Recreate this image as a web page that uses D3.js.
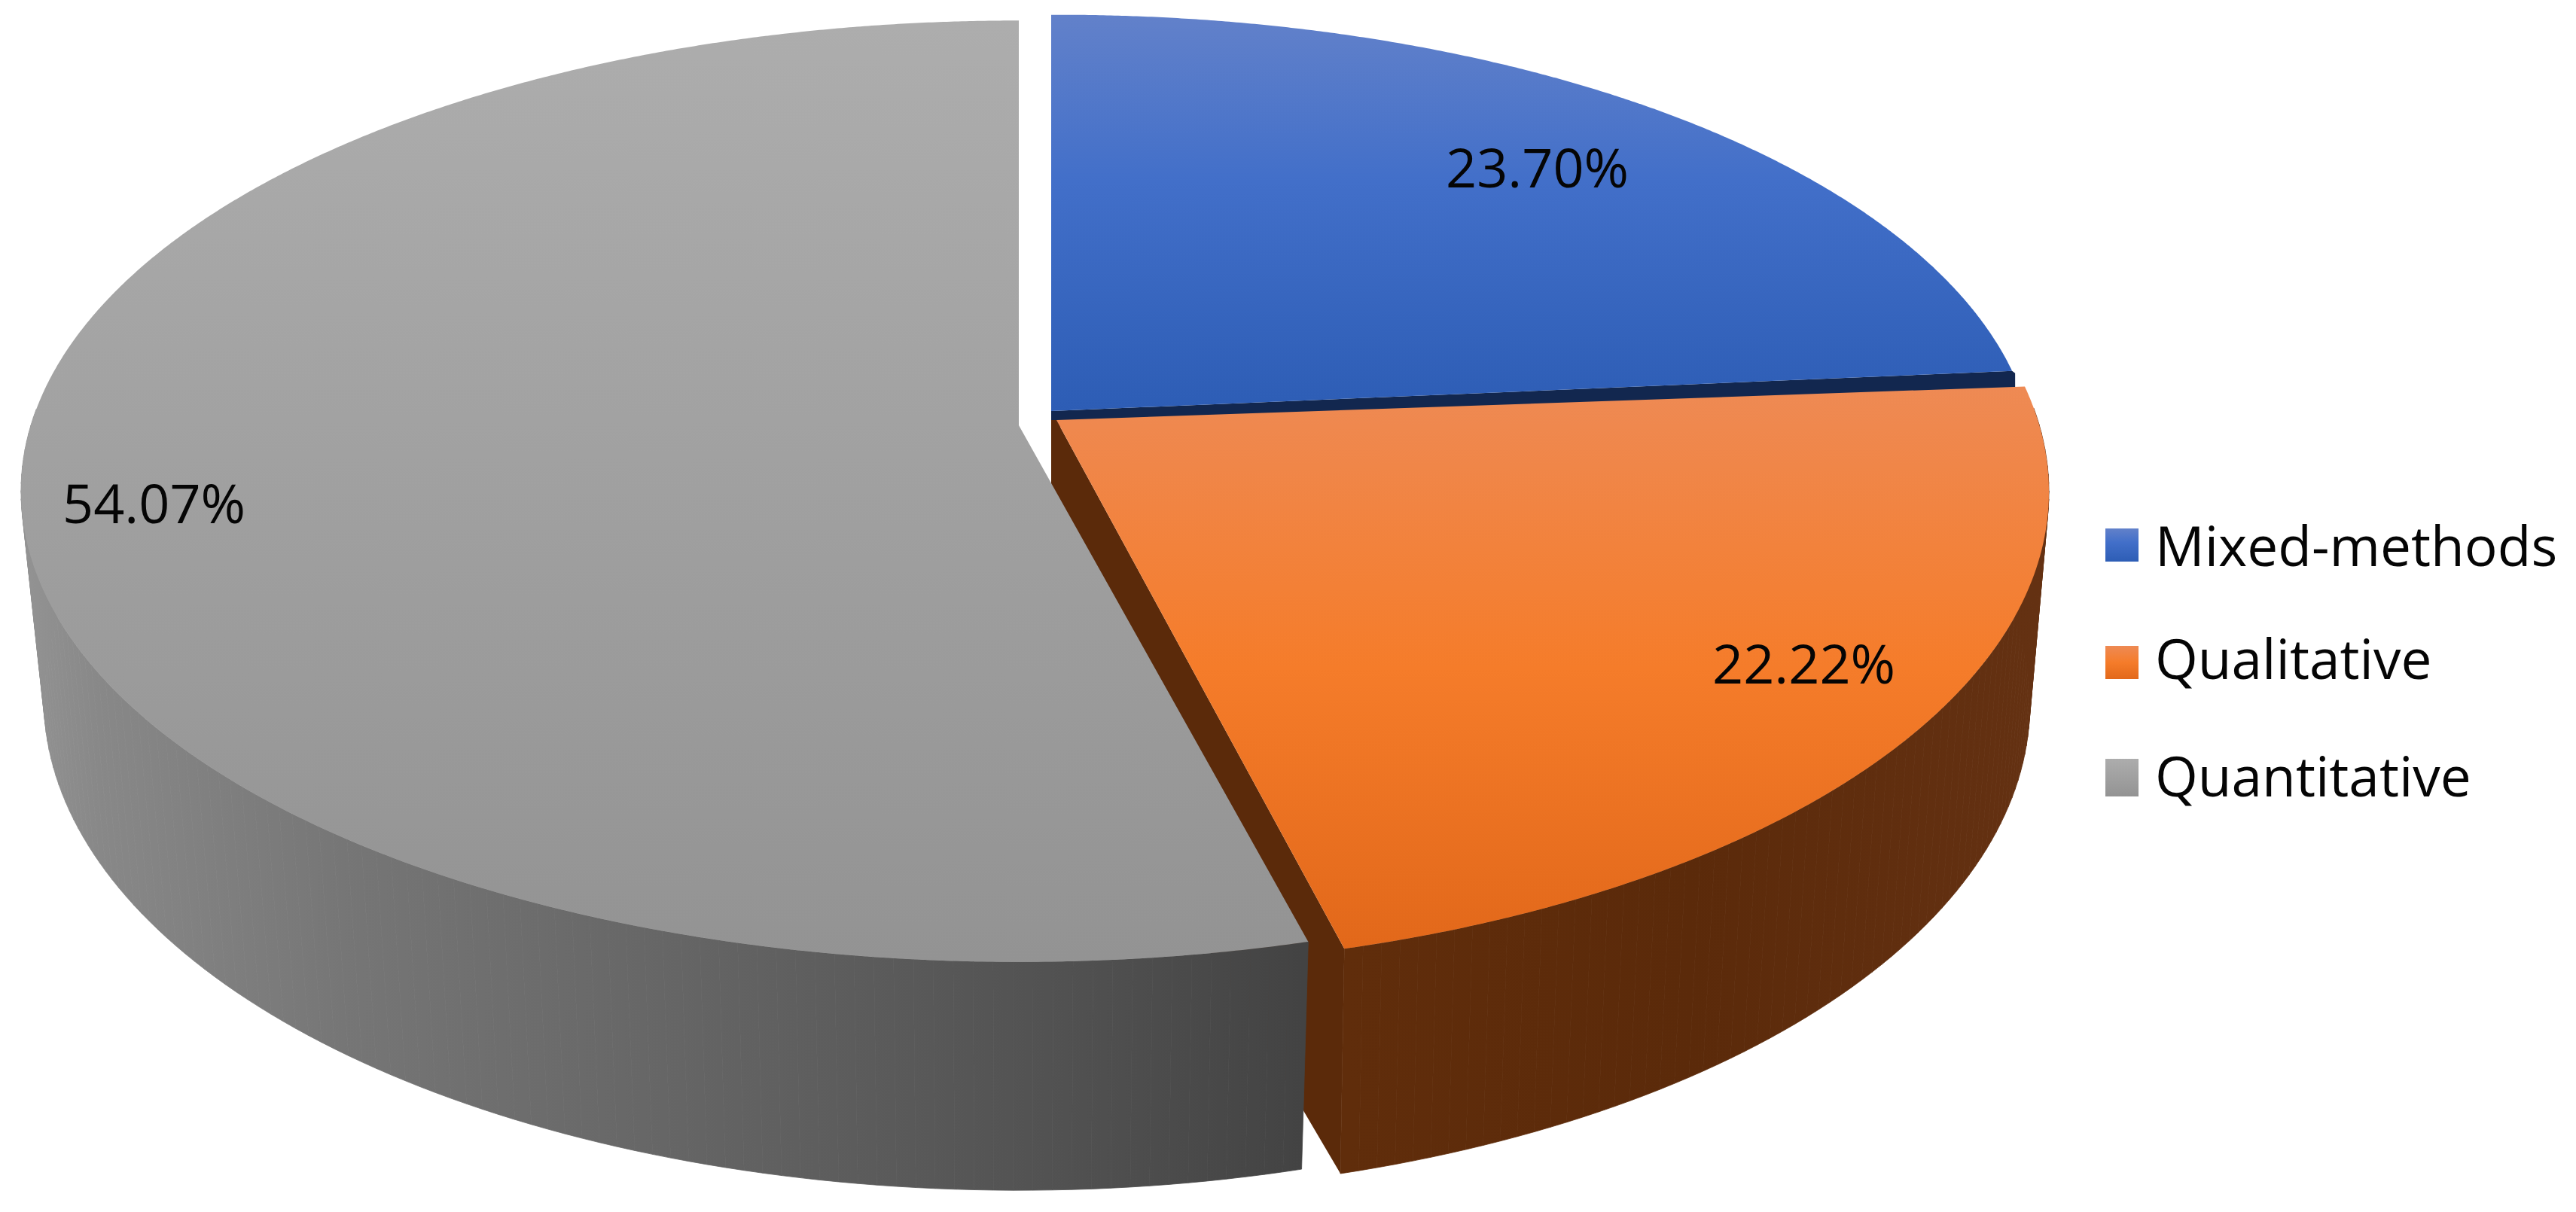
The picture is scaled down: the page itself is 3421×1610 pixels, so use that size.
<!DOCTYPE html>
<html><head><meta charset="utf-8">
<script src="https://cdn.jsdelivr.net/npm/d3@7"></script>
<style>html,body{margin:0;padding:0;background:#fff}svg{display:block}text{font-family:"Open Sans",sans-serif;fill:#050505}</style>
</head><body><svg id="c" width="3421" height="1610" viewBox="0 0 3421 1610"></svg>
<script>
const categories = ["Mixed-methods", "Qualitative", "Quantitative"];
const values = [23.70, 22.22, 54.07];
const valueLabels = ["23.70%", "22.22%", "54.07%"];

const deg = Math.PI / 180;
const svg = d3.select("#c");
const defs = svg.append("defs");

function vGrad(id, stops) {
  const g = defs.append("linearGradient").attr("id", id).attr("x1", 0).attr("y1", 0).attr("x2", 0).attr("y2", 1);
  stops.forEach(s => g.append("stop").attr("offset", s[0]).attr("stop-color", s[1]));
}
vGrad("g0", [[0, "#6281ca"], [0.42, "#426fc9"], [1, "#2d5db5"]]);
vGrad("g1", [[0, "#ee8a54"], [0.5, "#f57c2a"], [1, "#e2681a"]]);
vGrad("g2", [[0, "#adadad"], [1, "#939393"]]);

const wallGray = defs.append("linearGradient").attr("id", "wg").attr("gradientUnits", "userSpaceOnUse")
  .attr("x1", 30).attr("x2", 1730).attr("y1", 0).attr("y2", 0);
[[0, "#939393"], [0.06, "#888888"], [0.25, "#767676"], [0.5, "#666666"], [0.86, "#4e4e4e"], [1, "#434343"]]
  .forEach(s => wallGray.append("stop").attr("offset", s[0]).attr("stop-color", s[1]));
const wallOrange = defs.append("linearGradient").attr("id", "wo").attr("gradientUnits", "userSpaceOnUse")
  .attr("x1", 1790).attr("x2", 2700).attr("y1", 0).attr("y2", 0);
[[0, "#602d0b"], [0.5, "#5b2a0a"], [1, "#643112"]]
  .forEach(s => wallOrange.append("stop").attr("offset", s[0]).attr("stop-color", s[1]));

const fills = d3.scaleOrdinal().domain(categories).range(["url(#g0)", "url(#g1)", "url(#g2)"]);

// projection of each slice's disc: unit circle -> perspective ellipse (top rim and bottom rim)
const proj = [
  { cx: 1396, cy: 546, R: 1295, S: 600, k: 0.14, shear: -5 },
  { cx: 1403, cy: 558, R: 1305, S: 626, k: 0.14, shear: 6, cxb: 1406, cyb: 844, Rb: 1277, Sb: 639 },
  { cx: 1353, cy: 565, R: 1312, S: 613, k: 0.14, shear: 0, cxb: 1353, cyb: 837, Rb: 1282, Sb: 640 }
];
function pt(p, a, lower) {
  const u = Math.sin(a), v = Math.cos(a), w = 1 + p.k * v;
  if (lower) return [p.cxb + p.Rb * u / w, p.cyb - p.Sb * v / w];
  return [p.cx + p.R * u / w, p.cy + (-p.S * v + p.shear * u) / w];
}
function arcPts(p, a0, a1, lower) {
  const n = Math.max(2, Math.ceil(Math.abs(a1 - a0) / (0.25 * deg)));
  return d3.range(n + 1).map(i => pt(p, a0 + (a1 - a0) * i / n, lower));
}
const line = d3.line();
const closed = pts => line(pts) + "Z";

const arcs = d3.pie().sort(null).value(d => d)(values);
const [blue, orange, gray] = arcs;

// outer wall as a sweep of narrow bands between the top rim and the bottom rim
function wall(p, a0, a1, fill) {
  const n = Math.ceil(Math.abs(a1 - a0) / (1 * deg));
  svg.append("g").selectAll("path").data(d3.range(n)).join("path")
    .attr("d", i => {
      const s = a0 + (a1 - a0) * i / n, e = a0 + (a1 - a0) * (i + 1) / n;
      return closed([pt(p, s), pt(p, e), pt(p, e, true), pt(p, s, true)]);
    })
    .attr("fill", fill).attr("stroke", fill).attr("stroke-width", 0.8).attr("stroke-linejoin", "round");
}

// blue cut face (thin dark strip under the blue slice)
const bA = [proj[0].cx, proj[0].cy], bE = pt(proj[0], blue.endAngle);
svg.append("path").attr("d", closed([bA, bE, [bE[0] + 4, bE[1] + 3], [bE[0] + 4, bE[1] + 24], [bA[0], bA[1] + 22]])).attr("fill", "#12274f");

// orange cut face
const oTip = pt(proj[1], orange.endAngle), oTipB = pt(proj[1], orange.endAngle, true);
svg.append("path").attr("d", closed([[1396, proj[1].cy], [proj[1].cx, proj[1].cy], oTip, oTipB, [1396, 905]]))
  .attr("fill", "#5b2a0a");

wall(proj[1], orange.endAngle, 88 * deg, "url(#wo)");
wall(proj[2], gray.startAngle, 272 * deg, "url(#wg)");

// top faces
svg.append("g").selectAll("path").data([gray, orange, blue]).join("path")
  .attr("d", d => {
    const p = proj[d.index];
    return closed([[p.cx, p.cy]].concat(arcPts(p, d.startAngle, d.endAngle)));
  })
  .attr("fill", d => fills(categories[d.index]));

// data labels
const labelPos = [[1920, 249], [2274, 908], [83, 695]];
svg.append("g").selectAll("text").data(valueLabels).join("text")
  .attr("x", (d, i) => labelPos[i][0]).attr("y", (d, i) => labelPos[i][1])
  .attr("font-size", 72).text(d => d);

// legend
const legendBase = [752, 902, 1058];
const swatchTop = [702, 858, 1008];
const swatchBottom = [746, 902, 1058];
const lg = svg.append("g").selectAll("g").data(categories).join("g");
lg.append("rect").attr("x", 2796).attr("width", 44)
  .attr("y", (d, i) => swatchTop[i]).attr("height", (d, i) => swatchBottom[i] - swatchTop[i])
  .attr("fill", d => fills(d));
lg.append("text").attr("x", 2862).attr("y", (d, i) => legendBase[i]).attr("font-size", 73).text(d => d);
</script></body></html>
